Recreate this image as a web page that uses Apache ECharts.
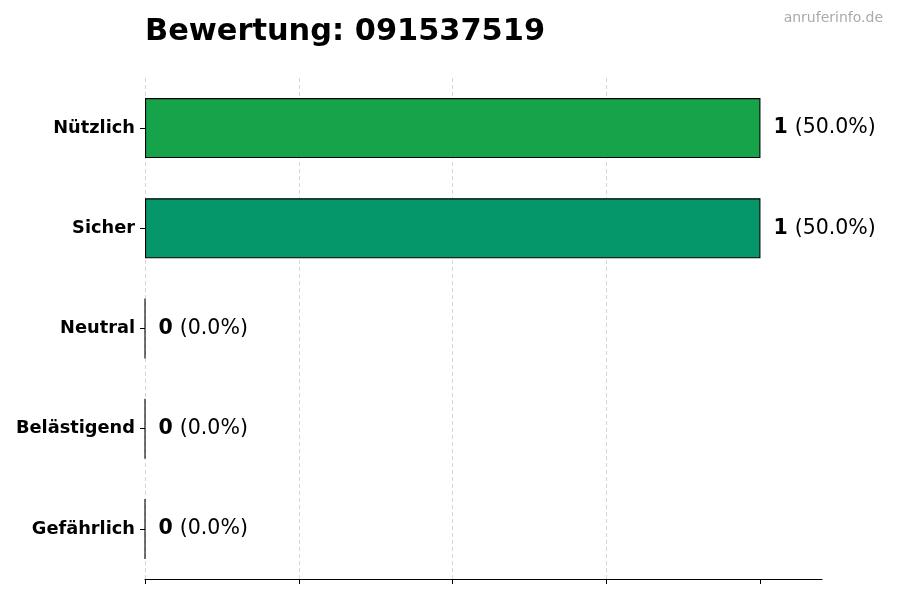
<!DOCTYPE html>
<html>
<head>
<meta charset="utf-8">
<script src="https://cdn.jsdelivr.net/npm/echarts@6/dist/echarts.min.js"></script>
<style>
html,body{margin:0;padding:0;background:#fff;}
#chart{width:900px;height:600px;}
</style>
</head>
<body>
<div id="chart"></div>
<script>
var categories = ['Nützlich', 'Sicher', 'Neutral', 'Belästigend', 'Gefährlich'];
var counts = [1, 1, 0, 0, 0];
var barColors = ['#16a34a', '#059669', '#6b7280', '#ea580c', '#dc2626'];
var xTicks = [0, 0.25, 0.5, 0.75, 1];
var phone = '091537519';

var total = counts.reduce(function (a, b) { return a + b; }, 0);
var FONT = 'DejaVu Sans';

var chart = echarts.init(document.getElementById('chart'));
chart.setOption({
  animation: false,
  backgroundColor: '#ffffff',
  title: [
    {
      text: 'Bewertung: ' + phone,
      left: 140,
      top: 12,
      textStyle: { fontFamily: FONT, fontWeight: 'bold', fontSize: 30.4, color: '#000' }
    },
    {
      text: 'anruferinfo.de',
      right: 12,
      top: 6,
      textStyle: { fontFamily: FONT, fontWeight: 'normal', fontSize: 14, color: '#aaaaaa' }
    }
  ],
  grid: { left: 145, right: 78, top: 78, bottom: 21, containLabel: false },
  xAxis: {
    type: 'value',
    min: 0,
    max: 1.1,
    interval: 0.25,
    axisLine: { show: true, lineStyle: { color: '#000', width: 1.2 } },
    axisTick: { show: true, length: 5, customValues: xTicks, lineStyle: { color: '#000', width: 1 } },
    axisLabel: { show: false },
    splitLine: { show: true, showMaxLine: false, lineStyle: { color: '#cccccc', type: [4, 3], width: 0.8 } }
  },
  yAxis: {
    type: 'category',
    data: categories,
    inverse: true,
    axisLine: { show: false },
    axisTick: { show: true, length: 5, alignWithLabel: true, lineStyle: { color: '#000', width: 1 } },
    axisLabel: { margin: 10, fontFamily: FONT, fontWeight: 'bold', fontSize: 17.8, color: '#000' },
    splitLine: { show: false }
  },
  series: [{
    type: 'bar',
    barWidth: 60,
    data: counts.map(function (v, i) {
      return { value: v, itemStyle: { color: barColors[i] } };
    }),
    itemStyle: { borderColor: '#000', borderWidth: 1.1 },
    label: {
      show: true,
      position: 'right',
      distance: 13,
      formatter: function (p) {
        var pct = total ? (p.value / total * 100) : 0;
        return '{b|' + p.value + '}{n|(' + pct.toFixed(1) + '%)}';
      },
      rich: {
        b: { fontFamily: FONT, fontWeight: 'bold', fontSize: 20.5, color: '#000', padding: [0, 7, 0, 0] },
        n: { fontFamily: FONT, fontWeight: 'normal', fontSize: 20.5, color: '#000' }
      }
    }
  }]
});
</script>
</body>
</html>
